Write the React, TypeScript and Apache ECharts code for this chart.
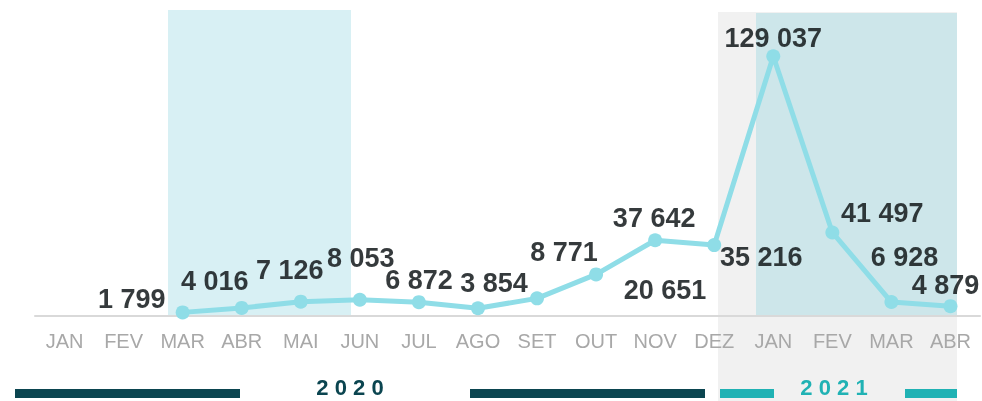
import React, { useEffect, useRef } from 'react';
import * as echarts from 'echarts';

const months = ['JAN', 'FEV', 'MAR', 'ABR', 'MAI', 'JUN', 'JUL', 'AGO', 'SET', 'OUT', 'NOV', 'DEZ', 'JAN', 'FEV', 'MAR', 'ABR'];
const cases: (number | null)[] = [null, null, 1799, 4016, 7126, 8053, 6872, 3854, 8771, 20651, 37642, 35216, 129037, 41497, 6928, 4879];
const labelOffsets: [number, number][] = [
  [0, 0], [0, 0], [-51, -13], [-27, -27], [-11, -32], [1, -42], [0, -22], [16, -25],
  [27, -46], [69, 16], [-1, -22], [47, 12], [0, -18], [50, -19], [13, -45], [-5, -21],
];
const yearLabels = ['2 0 2 0', '2 0 2 1'];

const fmt = (v: number) => String(v).replace(/\B(?=(\d{3})+(?!\d))/g, ' ');

export default function App() {
  const ref = useRef<HTMLDivElement>(null);
  useEffect(() => {
    if (!ref.current) return;
    const chart = echarts.init(ref.current, null, { renderer: 'svg' });
    const font = "'Liberation Sans', Arial, sans-serif";
    chart.setOption({
      animation: false,
      grid: { left: 35, right: 2, top: 14, bottom: 85 },
      xAxis: {
        type: 'category',
        data: months,
        boundaryGap: true,
        axisLine: { lineStyle: { color: '#d9d9d9', width: 2 } },
        axisTick: { show: false },
        axisLabel: { color: '#a8a8a8', fontSize: 20, fontFamily: font, margin: 15, interval: 0 },
      },
      yAxis: { type: 'value', min: 0, max: 150000, show: false, splitLine: { show: false } },
      graphic: [
        { type: 'rect', z: -10, shape: { x: 168, y: 10, width: 183, height: 306 }, style: { fill: '#d8f0f4' } },
        { type: 'rect', z: -10, shape: { x: 718, y: 12, width: 239, height: 389 }, style: { fill: '#f1f1f1' } },
        { type: 'rect', z: -9, shape: { x: 756, y: 13, width: 201, height: 303 }, style: { fill: '#cde6ea' } },
        { type: 'rect', shape: { x: 15, y: 389, width: 225, height: 9 }, style: { fill: '#0b4550' } },
        { type: 'rect', shape: { x: 470, y: 389, width: 235, height: 9 }, style: { fill: '#0b4550' } },
        { type: 'rect', shape: { x: 720, y: 389, width: 54, height: 9 }, style: { fill: '#20b2b4' } },
        { type: 'rect', shape: { x: 905, y: 389, width: 52, height: 9 }, style: { fill: '#20b2b4' } },
        {
          type: 'text', x: 350, y: 387,
          style: { text: yearLabels[0], fill: '#0b4550', font: `bold 22px ${font}`, textAlign: 'center', textVerticalAlign: 'middle' },
        },
        {
          type: 'text', x: 834, y: 387,
          style: { text: yearLabels[1], fill: '#20b2b4', font: `bold 22px ${font}`, textAlign: 'center', textVerticalAlign: 'middle' },
        },
      ],
      series: [
        {
          type: 'line',
          data: cases.map((v, i) => ({
            value: v,
            label: { offset: labelOffsets[i] },
          })),
          symbol: 'circle',
          symbolSize: 14,
          lineStyle: { color: '#8fdde7', width: 5 },
          itemStyle: { color: '#8fdde7' },
          label: {
            show: true,
            position: 'inside',
            formatter: (p: any) => (p.value == null ? '' : fmt(p.value)),
            color: 'rgba(20,26,28,0.86)',
            fontSize: 27,
            fontWeight: 'bold',
            fontFamily: font,
          },
          z: 5,
        },
      ],
    });
    return () => chart.dispose();
  }, []);
  return <div ref={ref} style={{ position: 'fixed', left: 0, top: 0, width: 982, height: 401 }} />;
}
